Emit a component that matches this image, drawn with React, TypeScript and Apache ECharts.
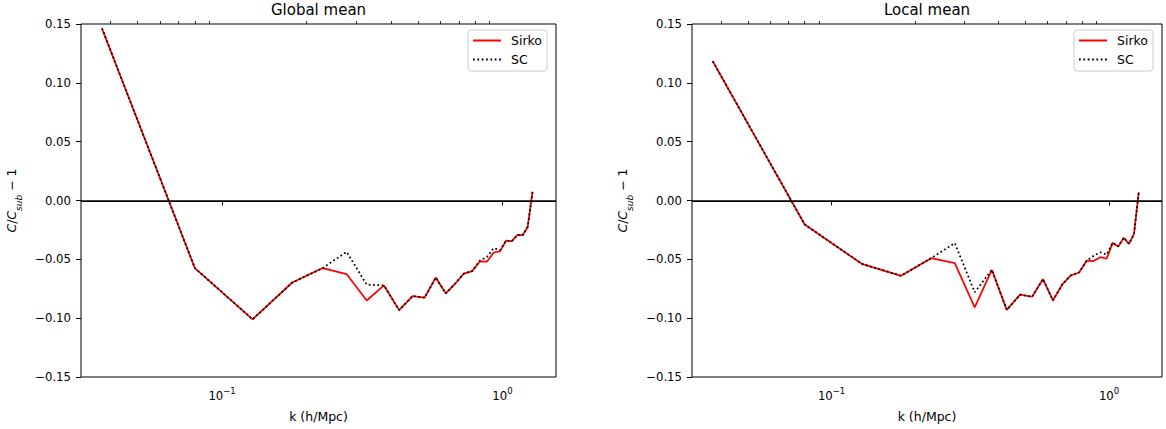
import React, { useEffect, useRef } from "react";
import * as echarts from "echarts";

const K_VALUES = [0.0373, 0.080, 0.1285, 0.178, 0.2285, 0.278, 0.328, 0.378, 0.428, 0.478, 0.528, 0.578, 0.628, 0.679, 0.728, 0.78, 0.83, 0.88, 0.93, 0.98, 1.03, 1.08, 1.13, 1.18, 1.23, 1.28];

const GLOBAL_SIRKO = [0.1463, -0.0575, -0.101, -0.0697, -0.0574, -0.0625, -0.085, -0.0722, -0.0932, -0.0812, -0.0826, -0.0655, -0.079, -0.0705, -0.0622, -0.06, -0.0518, -0.052, -0.0442, -0.0432, -0.0342, -0.0345, -0.0293, -0.0295, -0.0225, 0.0075];
const GLOBAL_SC = [0.1463, -0.0575, -0.101, -0.0697, -0.0574, -0.0436, -0.0715, -0.0722, -0.0932, -0.0812, -0.0826, -0.0655, -0.079, -0.0705, -0.0622, -0.06, -0.051, -0.048, -0.0405, -0.042, -0.0342, -0.0345, -0.0293, -0.0295, -0.0225, 0.0075];

const LOCAL_SIRKO = [0.1183, -0.0204, -0.0538, -0.064, -0.049, -0.0533, -0.0908, -0.0589, -0.093, -0.08, -0.0818, -0.0668, -0.0849, -0.0712, -0.0637, -0.0612, -0.0512, -0.0515, -0.0482, -0.0495, -0.036, -0.039, -0.0317, -0.0368, -0.0285, 0.0072];
const LOCAL_SC = [0.1183, -0.0204, -0.0538, -0.064, -0.049, -0.0362, -0.078, -0.0589, -0.093, -0.08, -0.0818, -0.0668, -0.0849, -0.0712, -0.0637, -0.0612, -0.0512, -0.047, -0.044, -0.046, -0.036, -0.039, -0.0317, -0.0368, -0.0285, 0.0072];

const TITLES = ["Global mean", "Local mean"];
const X_MAJOR = [0.1, 1];
const X_MINOR = [0.04, 0.05, 0.06, 0.07, 0.08, 0.09, 0.2, 0.3, 0.4, 0.5, 0.6, 0.7, 0.8, 0.9];
const X_MIN = 0.0314;
const X_MAX = 1.552;
const Y_MIN = -0.15;
const Y_MAX = 0.15;
const Y_STEP = 0.05;

const FONT = "DejaVu Sans";

const GRIDS = [
  { left: 81, top: 24, width: 475, height: 353 },
  { left: 692, top: 24, width: 470, height: 353 },
];

export default function App() {
  const ref = useRef<HTMLDivElement>(null);

  useEffect(() => {
    if (!ref.current) return;
    const chart = echarts.init(ref.current, null, { renderer: "svg" });

    const pairs = [
      [GLOBAL_SIRKO, GLOBAL_SC],
      [LOCAL_SIRKO, LOCAL_SC],
    ];

    const xAxes: any[] = [];
    const yAxes: any[] = [];
    const series: any[] = [];
    const legends: any[] = [];
    const graphics: any[] = [];

    GRIDS.forEach((g, gi) => {
      xAxes.push({
        gridIndex: gi,
        type: "log",
        logBase: 10,
        min: X_MIN,
        max: X_MAX,
        axisLine: { show: false },
        splitLine: { show: false },
        axisTick: {
          show: true,
          customValues: X_MAJOR,
          length: 5,
          lineStyle: { color: "#000", width: 1 },
        },
        axisLabel: {
          customValues: X_MAJOR,
          margin: 9,
          color: "#000",
          fontFamily: FONT,
          fontSize: 11.7,
          lineHeight: 16,
          formatter: (v: number) => {
            const e = Math.round(Math.log10(v));
            return "{b|10}{sup|" + (e < 0 ? "\u2212" + Math.abs(e) : String(e)) + "}";
          },
          rich: {
            b: {
              fontFamily: FONT,
              fontSize: 11.7,
              color: "#000",
              lineHeight: 16,
              verticalAlign: "bottom",
            },
            sup: {
              fontFamily: FONT,
              fontSize: 8.5,
              color: "#000",
              verticalAlign: "top",
              lineHeight: 10,
            },
          },
        },
        name: "k (h/Mpc)",
        nameLocation: "middle",
        nameGap: 33,
        nameTextStyle: { color: "#000", fontFamily: FONT, fontSize: 12.5 },
      });
      xAxes.push({
        gridIndex: gi,
        type: "log",
        logBase: 10,
        min: X_MIN,
        max: X_MAX,
        axisLine: { show: false },
        splitLine: { show: false },
        axisLabel: { show: false },
        axisTick: {
          show: true,
          customValues: X_MINOR,
          length: 3,
          lineStyle: { color: "#000", width: 0.8 },
        },
      });
      yAxes.push({
        gridIndex: gi,
        type: "value",
        min: Y_MIN,
        max: Y_MAX,
        interval: Y_STEP,
        axisLine: { show: false },
        splitLine: { show: false },
        axisTick: { show: true, length: 5, lineStyle: { color: "#000", width: 1 } },
        axisLabel: {
          margin: 10,
          color: "#000",
          fontFamily: FONT,
          fontSize: 11.7,
          formatter: (v: number) => {
            if (Math.abs(v) < 1e-9) return "0.00";
            return (v < 0 ? "\u2212" : "") + Math.abs(v).toFixed(2);
          },
        },
        name: "{i|C}{n|/}{i|C}{sub|sub}{n| \u2212 1}",
        nameLocation: "middle",
        nameRotate: 90,
        nameGap: 58,
        nameTextStyle: {
          rich: {
            i: { fontFamily: FONT, fontStyle: "italic", fontSize: 12.5, color: "#000", lineHeight: 18, verticalAlign: "top" },
            n: { fontFamily: FONT, fontSize: 12.5, color: "#000", lineHeight: 18, verticalAlign: "top" },
            sub: { fontFamily: FONT, fontStyle: "italic", fontSize: 9, color: "#000", lineHeight: 10, verticalAlign: "bottom" },
          },
        },
      });

      const [sirko, sc] = pairs[gi];
      series.push({
        name: "Sirko",
        type: "line",
        xAxisIndex: gi * 2,
        yAxisIndex: gi,
        symbol: "none",
        showSymbol: false,
        data: K_VALUES.map((k, i) => [k, sirko[i]]),
        lineStyle: { color: "#ff0000", width: 1.75 },
        itemStyle: { color: "#ff0000" },
        z: 2,
        markLine: {
          silent: true,
          symbol: "none",
          label: { show: false },
          lineStyle: { color: "#000", type: "solid", width: 1.75 },
          data: [{ yAxis: 0 }],
        },
      });
      series.push({
        name: "SC",
        type: "line",
        xAxisIndex: gi * 2,
        yAxisIndex: gi,
        symbol: "none",
        showSymbol: false,
        data: K_VALUES.map((k, i) => [k, sc[i]]),
        lineStyle: { color: "#000", width: 1.75, type: [1.75, 2.6], cap: "butt" },
        itemStyle: { color: "#000" },
        z: 3,
      });

      legends.push({
        data: ["Sirko", "SC"],
        orient: "vertical",
        left: g.left + g.width - 88,
        top: 30,
        padding: [4, 5, 5, 4],
        itemGap: 6,
        itemWidth: 28,
        itemHeight: 14,
        itemStyle: { opacity: 0 },
        backgroundColor: "rgba(255,255,255,0.8)",
        borderColor: "#cccccc",
        borderWidth: 1,
        borderRadius: 3,
        textStyle: { color: "#000", fontFamily: FONT, fontSize: 12.5, padding: [0, 0, 0, 5] },
      });

      graphics.push({
        type: "text",
        x: g.left + g.width / 2,
        y: 10,
        style: {
          text: TITLES[gi],
          align: "center",
          verticalAlign: "middle",
          fontFamily: FONT,
          fontSize: 15,
          fill: "#000",
        },
      });
    });

    chart.setOption({
      animation: false,
      backgroundColor: "#fff",
      grid: GRIDS.map((g) => ({
        ...g,
        show: true,
        borderColor: "#000",
        borderWidth: 1,
        backgroundColor: "transparent",
        containLabel: false,
      })),
      xAxis: xAxes,
      yAxis: yAxes,
      legend: legends,
      series,
      graphic: graphics,
    });

    return () => chart.dispose();
  }, []);

  return <div ref={ref} style={{ width: 1166, height: 429, position: "absolute", left: 0, top: 0 }} />;
}
